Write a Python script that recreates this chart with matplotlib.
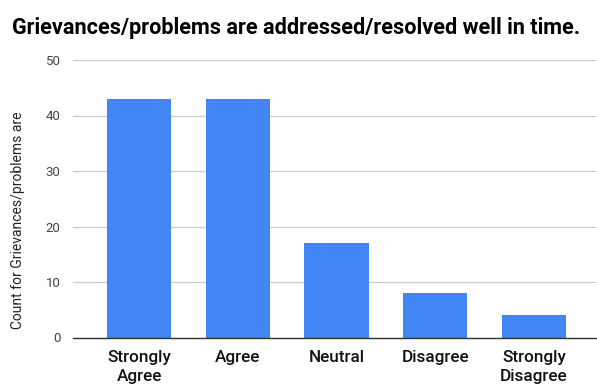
import matplotlib
matplotlib.use("Agg")
import matplotlib.pyplot as plt

categories = ["Strongly\nAgree", "Agree", "Neutral", "Disagree", "Strongly\nDisagree"]
counts = [43, 43, 17, 8, 4]
yticks = [0, 10, 20, 30, 40, 50]

plt.rcParams['font.family'] = ['Roboto', 'DejaVu Sans']

W, H = 597, 388
fig = plt.figure(figsize=(W/100, H/100), dpi=100)
ax = fig.add_axes([73/W, 1-337.5/H, (596-73)/W, (337.5-60)/H])

x = list(range(len(categories)))
ax.bar(x, counts, width=0.65, color="#4285f4", zorder=3)
ax.set_xlim(-0.67, 4.63)
ax.set_ylim(0, 50)
ax.set_yticks(yticks)
ax.set_yticklabels([str(t) for t in yticks], fontsize=9.5, color="#444444")
ax.set_xticks(x)
ax.set_xticklabels(categories, fontsize=12.3, color="#111111", linespacing=1.35,
                   fontweight='medium')
ax.tick_params(axis='both', length=0)
ax.tick_params(axis='x', pad=9)
ax.tick_params(axis='y', pad=9)
ax.grid(axis='y', color="#cccccc", linewidth=0.9, zorder=0)
for s in ['top', 'right', 'left']:
    ax.spines[s].set_visible(False)
ax.spines['bottom'].set_color("#333333")
ax.spines['bottom'].set_linewidth(1.0)
ax.spines['bottom'].set_zorder(4)
ax.set_ylabel("Count for Grievances/problems are", fontsize=10, color="#222222")
ax.yaxis.set_label_coords(-(73-25)/523, (337.5-220)/277.5)

fig.text(12/W, 1-34/H, "Grievances/problems are addressed/resolved well in time.",
         fontsize=15.6, fontweight='bold', color="#000000", ha='left', va='baseline')

fig.savefig("out.png", dpi=100)
